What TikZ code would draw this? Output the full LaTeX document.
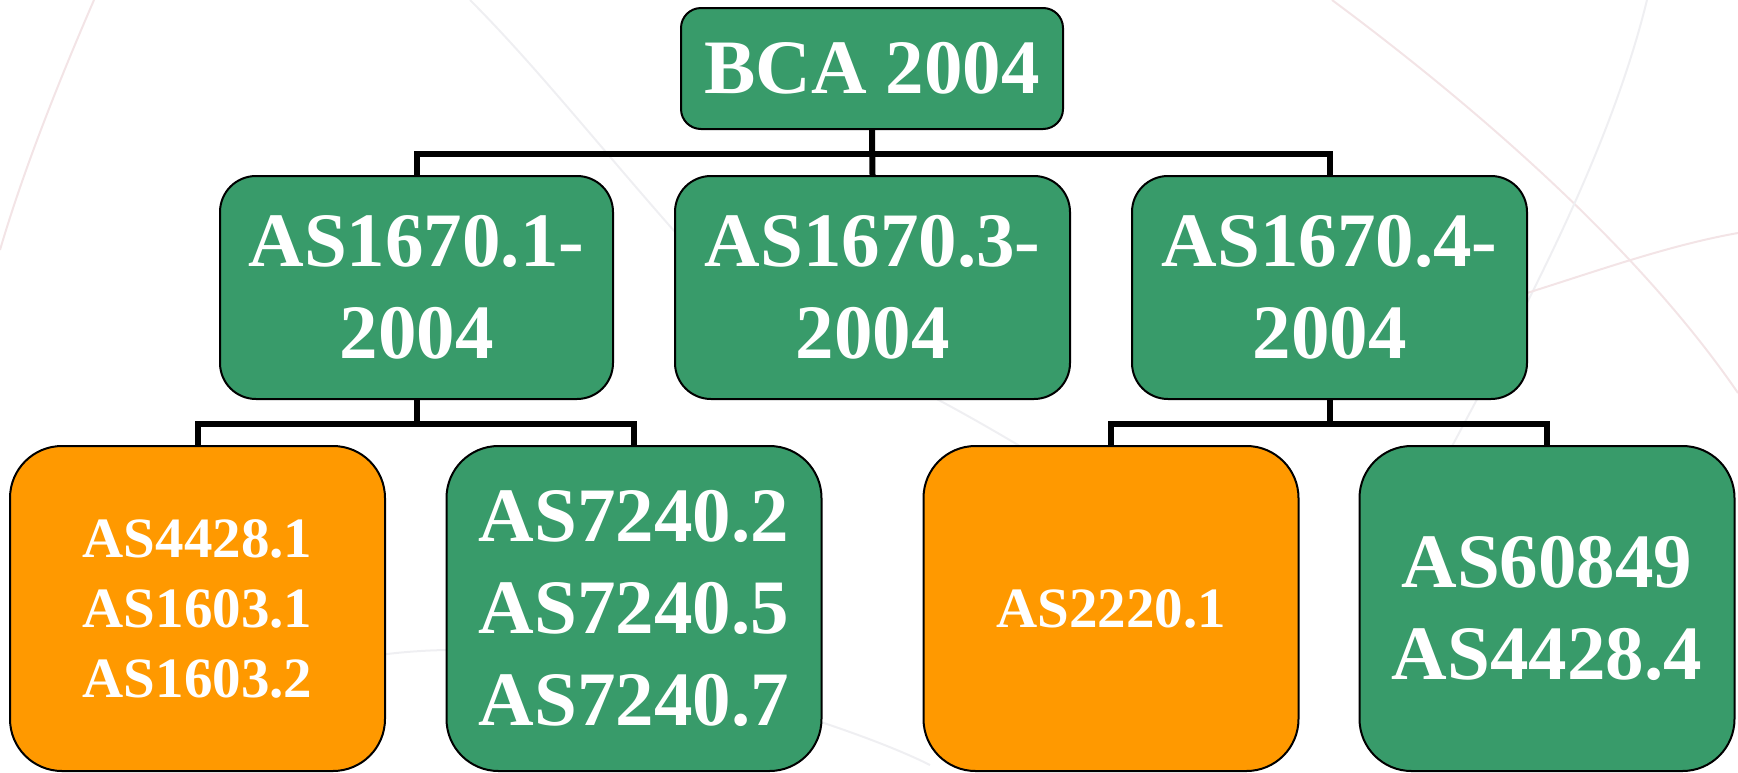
\documentclass[tikz,border=0pt]{standalone}
\usepackage{fontspec}
\setmainfont{Liberation Serif}
\definecolor{stdgreen}{RGB}{56,155,106}
\definecolor{stdorange}{RGB}{255,153,0}
\definecolor{arcpink}{RGB}{243,228,230}
\definecolor{arcgrey}{RGB}{239,239,242}
\tikzset{
  std/.style={draw=black,line width=2pt,text=white,align=center,inner sep=0pt},
  big/.style={font=\bfseries\fontsize{77}{92}\selectfont},
  small/.style={font=\bfseries\fontsize{57}{70}\selectfont},
  bus/.style={draw=black,line width=6pt},
}
\begin{document}
\begin{tikzpicture}[x=1pt,y=1pt]
  \useasboundingbox (0,0) rectangle (1738,-772);

  % faint background arcs
  \begin{scope}[line width=2pt]
    \draw[arcpink] (94,0) .. controls (55,-90) and (22,-175) .. (0,-250);
    \draw[arcpink] (1332,0) .. controls (1480,-110) and (1640,-250) .. (1738,-393);
    \draw[arcgrey] (1647,0) .. controls (1610,-150) and (1530,-300) .. (1450,-450);
    \draw[arcpink] (1527,-293) .. controls (1600,-270) and (1670,-245) .. (1738,-233);
    \draw[arcgrey] (470,0) .. controls (540,-70) and (610,-160) .. (700,-260);
    \draw[arcgrey] (900,-380) .. controls (960,-410) and (1010,-440) .. (1060,-470);
    \draw[arcgrey] (380,-655) .. controls (400,-652) and (430,-650) .. (450,-650);
    \draw[arcgrey] (815,-720) .. controls (860,-735) and (900,-750) .. (930,-765);
  \end{scope}

  \begin{scope}[every node/.style={std,fill=stdgreen,big}]
    \node[minimum width=382pt,minimum height=121pt,rounded corners=20pt] (bca) at (872,-68.5) {BCA 2004};
    \node[minimum width=393pt,minimum height=223pt,rounded corners=36pt] (as1) at (416.5,-287.5) {AS1670.1-\\2004};
    \node[minimum width=395pt,minimum height=223pt,rounded corners=36pt] (as3) at (872.5,-287.5) {AS1670.3-\\2004};
    \node[minimum width=395pt,minimum height=223pt,rounded corners=36pt] (as4) at (1329.5,-287.5) {AS1670.4-\\2004};
  \end{scope}

  \begin{scope}[every node/.style={std,minimum width=375pt,minimum height=325pt,rounded corners=52pt}]
    \node[fill=stdorange,small] (b1) at (197.5,-608.5) {AS4428.1\\AS1603.1\\AS1603.2};
    \node[fill=stdgreen,big]    (b2) at (634,-608.5)   {AS7240.2\\AS7240.5\\AS7240.7};
    \node[fill=stdorange,small] (b3) at (1111,-608.5)  {AS2220.1};
    \node[fill=stdgreen,big]    (b4) at (1547,-608.5)  {AS60849\\AS4428.4};
  \end{scope}

  \draw[bus] (bca.south) -- ++(0,-24) -| (as1.north);
  \draw[bus] (bca.south) -- ++(0,-24) -| (as4.north);
  \draw[bus] (bca.south) -- (as3.north);
  \draw[bus] (as1.south) -- ++(0,-24) -| (b1.north);
  \draw[bus] (as1.south) -- ++(0,-24) -| (b2.north);
  \draw[bus] (as4.south) -- ++(0,-24) -| (b3.north);
  \draw[bus] (as4.south) -- ++(0,-24) -| (b4.north);

\end{tikzpicture}
\end{document}
